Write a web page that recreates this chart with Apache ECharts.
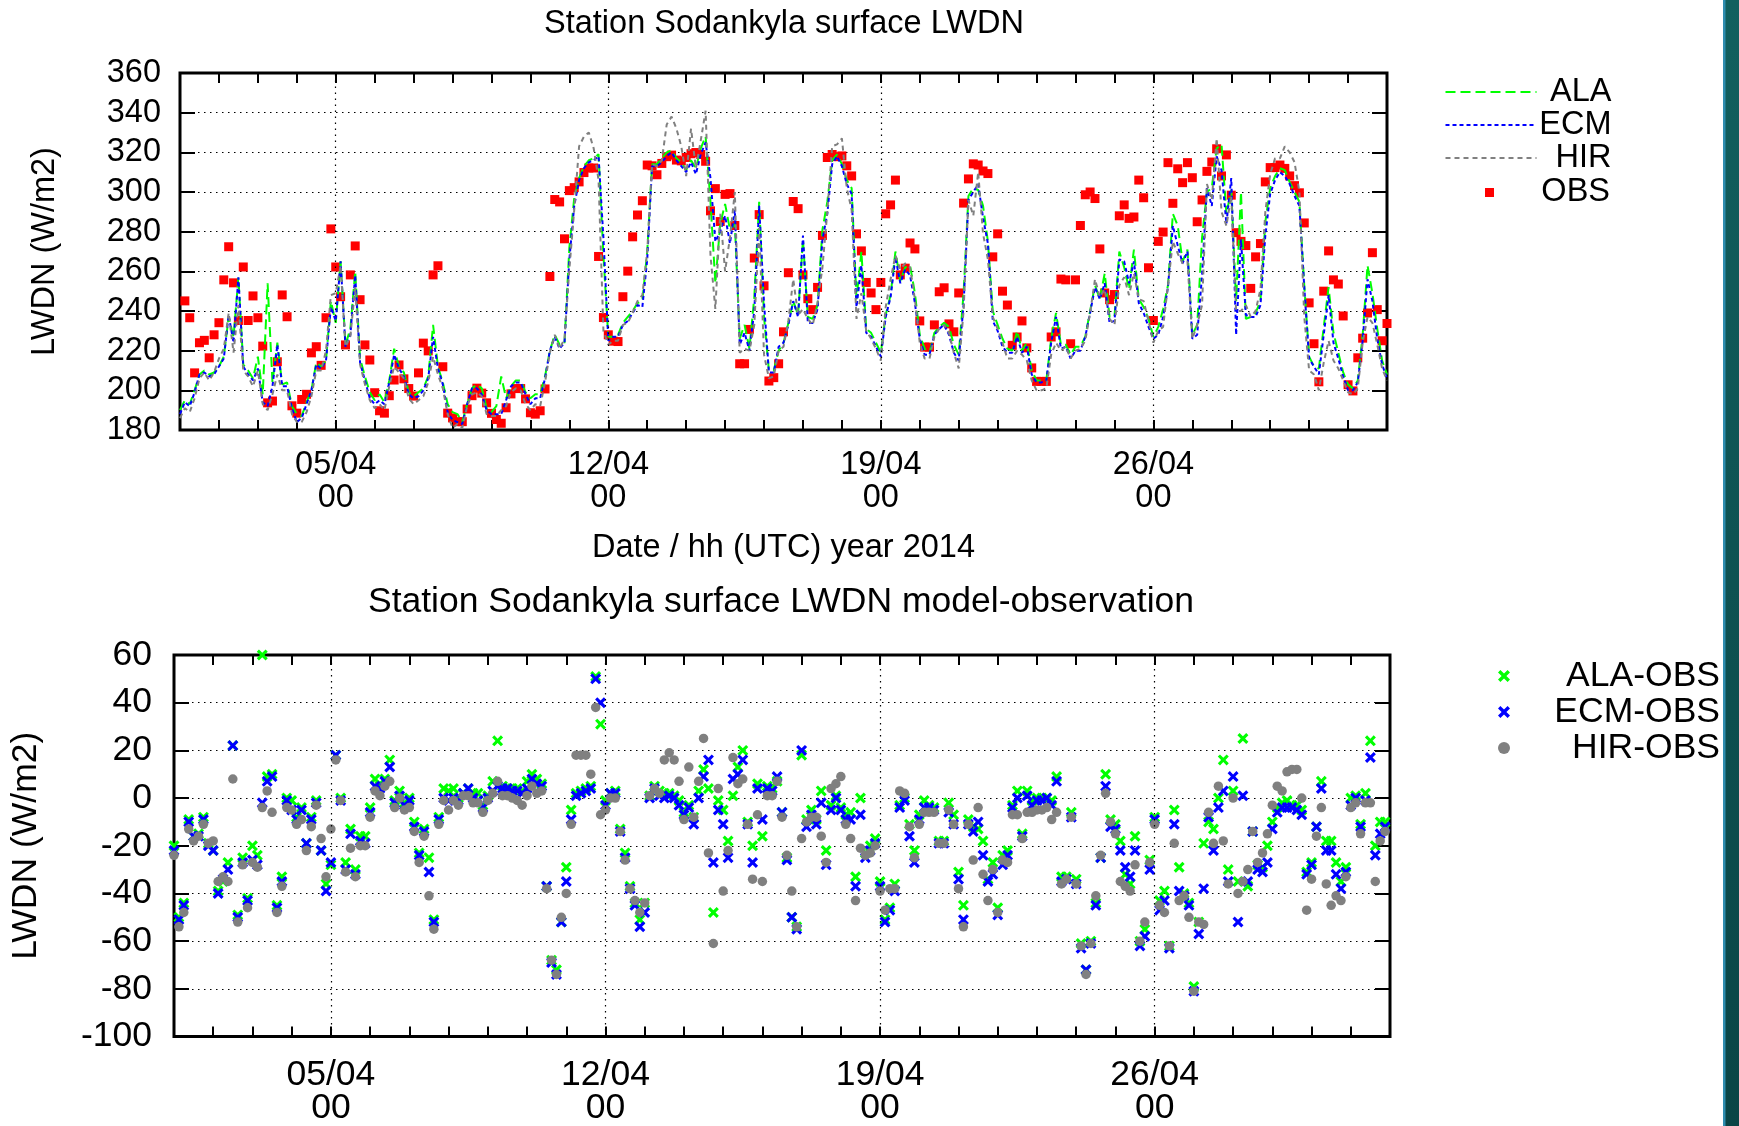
<!DOCTYPE html>
<html>
<head>
<meta charset="utf-8">
<title>Station Sodankyla surface LWDN</title>
<script src="https://cdn.jsdelivr.net/npm/echarts@6/dist/echarts.min.js"></script>
<style>
html, body { margin: 0; padding: 0; background: #fff; }
#chart { width: 1739px; height: 1126px; }
</style>
</head>
<body>
<div id="chart"></div>
<script>
// hours after 01/04/2014 00 UTC, one value every 3 hours
var hours = [];
for (var h = 0; h <= 744; h += 3) hours.push(h);

var weekTicks = [96, 264, 432, 600];
var weekLabels = ['05/04\n00', '12/04\n00', '19/04\n00', '26/04\n00'];

// observed LWDN (W/m2)
var obs = [null,
  245.1, 236.6, 208.8, 224.0, 225.2, 216.4, 228.0, 234.1,
  255.7, 272.4, 254.2, 235.2, 262.2, 235.2, 247.6, 236.6,
  222.3, 193.7, 194.6, 214.4, 248.1, 237.1, 192.2, 188.5,
  195.4, 198.0, 218.9, 222.0, 212.6, 236.6, 281.4, 262.2,
  247.2, 222.9, 258.2, 272.8, 245.7, 222.9, 215.3, 198.8,
  189.7, 188.5, 197.3, 205.2, 212.8, 205.8, 200.9, 197.1,
  208.8, 223.8, 219.9, 258.2, 262.8, 211.9, 188.5, 186.1,
  184.2, 184.2, 190.6, 197.3, 201.1, 198.6, 193.7, 188.4,
  185.3, 183.4, 191.2, 198.2, 200.9, 200.9, 195.7, 188.7,
  188.0, 189.7, 200.7, 257.4, 296.2, 295.0, 276.4, 300.7,
  302.2, 305.1, 309.8, 312.1, 312.1, 267.5, 236.7, 228.0,
  224.8, 224.6, 247.2, 260.1, 277.4, 288.4, 295.6, 313.6,
  313.2, 308.7, 314.4, 317.8, 318.6, 316.1, 315.7, 317.4,
  319.3, 319.9, 318.9, 315.5, 290.5, 301.7, 285.1, 298.8,
  299.2, 283.1, 213.4, 213.4, 230.7, 266.7, 288.6, 252.7,
  204.7, 206.4, 213.4, 229.5, 259.3, 295.2, 291.6, 258.2,
  246.2, 240.7, 251.9, 278.1, 317.4, 318.9, 317.8, 318.2,
  313.2, 308.1, 278.9, 270.3, 254.4, 249.1, 240.7, 254.4,
  289.0, 293.5, 306.0, 258.2, 261.6, 274.3, 271.3, 235.0,
  221.8, 221.8, 233.0, 249.7, 251.7, 233.5, 229.5, 249.1,
  294.4, 306.6, 314.2, 313.6, 310.6, 309.3, 267.3, 278.9,
  250.0, 243.0, 222.7, 226.9, 235.0, 221.4, 211.3, 204.5,
  204.5, 204.5, 226.9, 229.5, 256.1, 255.7, 223.5, 255.7,
  283.1, 298.6, 300.0, 296.7, 271.3, 249.1, 245.7, 248.3,
  288.0, 293.5, 286.7, 287.4, 306.0, 297.1, 261.8, 235.2,
  275.1, 279.8, 314.8, 294.3, 311.7, 304.7, 314.8, 307.2,
  285.0, 296.0, 310.4, 315.1, 321.8, 308.1, 318.7, 298.4,
  279.5, 275.1, 273.0, 251.4, 267.3, 274.0, 305.1, 312.3,
  312.3, 313.6, 311.9, 308.1, 303.2, 299.6, 284.4, 244.1,
  223.5, 204.3, 250.0, 270.3, 255.7, 253.6, 237.5, 202.8,
  199.7, 216.4, 226.3, 239.0, 269.4, 240.7, 225.0, 233.7];

// model LWDN (W/m2)
var ala = [
  190, 195, 193, 200, 208, 210, 208, 209,
  212, 217, 237, 227, 257, 213, 210, 206,
  217, 198, 254, 204, 224, 203, 204, 192,
  188, 187, 194, 200, 214, 212, 215, 245,
  234, 265, 223, 231, 260, 216, 207, 199,
  195, 198, 194, 205, 221, 212, 209, 199,
  197, 199, 201, 207, 233, 212, 204, 193,
  189, 188, 184, 193, 201, 203, 201, 191,
  189, 192, 207, 196, 202, 205, 205, 199,
  196, 198, 198, 207, 220, 228, 223, 224,
  272, 297, 307, 313, 316, 317, 319, 268,
  227, 227, 228, 234, 237, 240, 244, 245,
  270, 314, 314, 317, 320, 321, 317, 315,
  311, 316, 312, 322, 328, 295, 254, 284,
  294, 281, 284, 226, 233, 221, 247, 295,
  237, 210, 210, 220, 224, 234, 245, 238,
  276, 237, 236, 243, 281, 295, 316, 319,
  314, 306, 302, 246, 270, 231, 229, 224,
  219, 238, 248, 270, 255, 262, 263, 249,
  228, 221, 219, 229, 232, 234, 232, 223,
  218, 249, 298, 302, 301, 293, 275, 240,
  233, 226, 221, 220, 230, 220, 224, 210,
  205, 205, 205, 226, 239, 223, 223, 218,
  222, 222, 227, 240, 253, 246, 259, 237,
  237, 270, 262, 251, 271, 246, 242, 236,
  227, 232, 241, 253, 289, 283, 265, 271,
  228, 233, 277, 300, 302, 322, 324, 289,
  301, 245, 300, 236, 237, 239, 245, 285,
  302, 308, 312, 311, 305, 300, 295, 253,
  217, 212, 211, 232, 252, 229, 219, 209,
  203, 201, 205, 228, 263, 249, 231, 215,
  208];

var ecm = [
  188, 194, 192, 199, 208, 209, 207, 208,
  212, 216, 238, 224, 257, 212, 208, 205,
  211, 194, 192, 202, 223, 202, 202, 191,
  184, 186, 193, 200, 213, 211, 215, 242,
  235, 265, 222, 228, 258, 214, 205, 196,
  193, 195, 193, 204, 218, 211, 207, 198,
  196, 197, 200, 206, 227, 211, 203, 189,
  185, 184, 183, 193, 201, 201, 198, 190,
  188, 188, 188, 195, 202, 204, 204, 198,
  193, 196, 196, 206, 220, 227, 221, 224,
  266, 293, 306, 312, 315, 316, 318, 277,
  225, 227, 227, 233, 235, 239, 243, 242,
  266, 313, 313, 315, 318, 320, 316, 313,
  310, 315, 309, 319, 325, 307, 275, 280,
  288, 274, 291, 223, 229, 220, 240, 293,
  244, 209, 209, 222, 224, 233, 245, 237,
  278, 234, 234, 241, 276, 289, 314, 318,
  313, 304, 299, 242, 263, 229, 227, 222,
  217, 237, 247, 267, 254, 261, 258, 244,
  226, 218, 218, 228, 231, 233, 228, 219,
  215, 243, 296, 300, 304, 287, 274, 235,
  230, 222, 219, 219, 227, 219, 222, 208,
  204, 204, 205, 224, 237, 221, 222, 216,
  220, 220, 227, 239, 252, 246, 254, 234,
  235, 266, 265, 254, 265, 244, 239, 232,
  226, 228, 237, 252, 283, 273, 264, 270,
  226, 228, 258, 302, 293, 318, 311, 284,
  307, 228, 276, 238, 237, 237, 243, 278,
  299, 306, 310, 308, 304, 298, 293, 252,
  216, 212, 208, 228, 248, 224, 216, 207,
  200, 200, 204, 225, 256, 245, 226, 213,
  206];

var hir = [
  186, 191, 189, 196, 206, 209, 205, 209,
  216, 221, 239, 219, 243, 210, 207, 202,
  210, 193, 190, 198, 208, 200, 200, 188,
  184, 184, 189, 197, 210, 210, 220, 248,
  249, 263, 222, 227, 252, 213, 203, 195,
  191, 193, 190, 202, 212, 209, 206, 196,
  193, 195, 197, 204, 217, 208, 201, 188,
  181, 183, 181, 192, 198, 199, 197, 188,
  187, 187, 190, 192, 199, 201, 200, 193,
  190, 193, 192, 204, 219, 228, 221, 226,
  261, 291, 323, 328, 330, 322, 306, 230,
  223, 225, 225, 233, 234, 239, 245, 248,
  270, 314, 313, 316, 334, 338, 332, 323,
  308, 332, 312, 326, 341, 268, 241, 289,
  260, 277, 300, 219, 221, 220, 233, 282,
  218, 206, 207, 220, 222, 235, 256, 238,
  241, 236, 233, 244, 262, 290, 323, 324,
  327, 302, 291, 236, 249, 230, 226, 221,
  215, 242, 256, 268, 261, 264, 262, 246,
  224, 216, 216, 227, 231, 233, 229, 219,
  211, 240, 296, 288, 310, 279, 266, 237,
  231, 224, 216, 216, 220, 218, 215, 205,
  200, 200, 201, 218, 224, 220, 222, 216,
  220, 221, 225, 239, 256, 247, 251, 236,
  233, 253, 257, 248, 259, 246, 245, 235,
  224, 230, 232, 253, 275, 269, 264, 265,
  226, 233, 243, 304, 296, 327, 290, 283,
  298, 240, 240, 243, 237, 240, 251, 290,
  309, 317, 317, 323, 320, 315, 300, 237,
  210, 208, 200, 214, 225, 215, 211, 205,
  199, 198, 201, 224, 237, 234, 223, 211,
  205];

// model minus observation (W/m2)
var alaObs = [
  -20, -50, -44, -9, -16, -15, -8, -19,
  -22, -39, -35, -27, 22, -49, -25, -42,
  -20, -24, 60, 9, 10, -45, -33, 0,
  -1, -8, -4, -19, -8, -1, -22, -36,
  -28, 18, 0, -27, -13, -30, -16, -16,
  -4, 8, 5, 8, 16, -1, 3, -2,
  0, -10, -23, -13, -25, -51, -8, 4,
  3, 4, 0, 2, 4, 2, 2, -3,
  1, 7, 24, 5, 4, 4, 4, 3,
  7, 10, 8, 6, -37, -68, -72, -52,
  -29, -5, 2, 3, 4, 5, 51, 31,
  -1, 2, 3, -13, -23, -37, -44, -51,
  -44, 1, 5, 3, 2, 2, 1, -1,
  -6, -3, -8, 3, 12, 4, -48, -1,
  -5, -18, 1, 13, 20, -10, -20, 6,
  -16, 5, 4, 7, -6, -25, -50, -54,
  18, -9, -5, -9, 3, -22, -3, 1,
  -4, -7, -6, -33, 0, -23, -20, -17,
  -35, -51, -46, -36, -3, 0, -11, -22,
  -7, -1, -3, -4, -18, -18, -2, -7,
  -31, -45, -9, -12, -13, -18, -34, -27,
  -46, -24, -22, -3, 3, -15, 3, -1,
  0, 0, 0, -1, 9, -33, -33, -6,
  -34, -61, -72, -60, -44, -25, 10, -9,
  -11, -18, -32, -36, -16, -60, -55, -26,
  -8, -43, -39, -62, -5, -29, -40, -44,
  -79, -52, -19, -10, -13, 0, 16, -30,
  3, -35, 25, -37, -14, -28, -29, -20,
  -10, -4, -2, -1, -3, -3, -5, -31,
  -27, -12, 7, -18, -18, -27, -35, -29,
  0, 1, -11, 2, 24, -20, -10, -10,
  null];

var ecmObs = [
  -22, -51, -45, -10, -16, -16, -9, -20,
  -22, -40, -34, -30, 22, -50, -27, -43,
  -26, -28, -2, 7, 9, -46, -35, -1,
  -5, -9, -5, -19, -9, -2, -22, -39,
  -27, 18, -1, -30, -15, -32, -18, -19,
  -6, 5, 4, 7, 13, -2, 1, -3,
  -1, -12, -24, -14, -31, -52, -9, 0,
  -1, 0, -1, 2, 4, 0, -1, -4,
  0, 3, 5, 4, 4, 3, 3, 2,
  4, 8, 6, 5, -37, -69, -74, -52,
  -35, -9, 1, 2, 3, 4, 50, 40,
  -3, 2, 2, -14, -25, -38, -45, -54,
  -48, 0, 4, 1, 0, 1, 0, -3,
  -7, -4, -11, 0, 9, 16, -27, -5,
  -11, -25, 8, 10, 16, -11, -27, 4,
  -9, 4, 3, 9, -6, -26, -50, -55,
  20, -12, -7, -11, -2, -28, -5, 0,
  -5, -9, -9, -37, -7, -25, -22, -19,
  -37, -52, -47, -39, -4, -1, -16, -27,
  -9, -4, -4, -5, -19, -19, -6, -11,
  -34, -51, -11, -14, -10, -24, -35, -32,
  -49, -28, -24, -4, 0, -16, 1, -3,
  -1, -1, 0, -3, 7, -35, -34, -8,
  -36, -63, -72, -61, -45, -25, 5, -12,
  -13, -22, -29, -33, -22, -62, -58, -30,
  -9, -47, -43, -63, -11, -39, -41, -45,
  -81, -57, -38, -8, -22, -4, 3, -35,
  9, -52, 1, -35, -14, -30, -31, -27,
  -13, -6, -4, -4, -4, -5, -7, -32,
  -28, -12, 4, -22, -22, -32, -38, -31,
  -3, 0, -12, -1, 17, -24, -15, -12,
  null];

var hirObs = [
  -24, -54, -48, -13, -18, -16, -11, -19,
  -18, -35, -33, -35, 8, -52, -28, -46,
  -27, -29, -4, 3, -6, -48, -37, -4,
  -5, -11, -9, -22, -12, -3, -17, -33,
  -13, 16, -1, -31, -21, -33, -20, -20,
  -8, 3, 1, 5, 7, -4, 0, -5,
  -4, -14, -27, -16, -41, -55, -11, -1,
  -5, -1, -3, 1, 1, -2, -2, -6,
  -1, 2, 7, 1, 1, 0, -1, -3,
  1, 5, 2, 3, -38, -68, -74, -50,
  -40, -11, 18, 18, 18, 10, 38, -7,
  -5, 0, 0, -14, -26, -38, -43, -48,
  -44, 1, 4, 2, 16, 19, 16, 7,
  -9, 13, -8, 7, 25, -23, -61, 4,
  -39, -22, 17, 6, 8, -11, -34, -7,
  -35, 1, 1, 7, -8, -24, -39, -54,
  -17, -10, -8, -8, -16, -27, 4, 6,
  9, -11, -17, -43, -21, -24, -23, -20,
  -39, -47, -38, -38, 3, 2, -12, -25,
  -11, -6, -6, -6, -19, -19, -5, -11,
  -38, -54, -11, -26, -4, -32, -43, -30,
  -48, -26, -27, -7, -7, -17, -6, -6,
  -5, -5, -4, -9, -6, -36, -34, -8,
  -36, -62, -74, -61, -41, -24, 2, -10,
  -15, -35, -37, -39, -28, -60, -52, -27,
  -11, -45, -48, -62, -19, -43, -41, -50,
  -81, -52, -53, -6, -19, 5, -18, -36,
  0, -40, -35, -30, -14, -27, -23, -15,
  -3, 5, 3, 11, 12, 12, 0, -47,
  -34, -16, -4, -36, -45, -41, -43, -33,
  -4, -2, -15, -2, -2, -35, -18, -14,
  null];

function pairs(vals) {
  var out = [];
  for (var i = 0; i < vals.length; i++) {
    if (vals[i] !== null) out.push([hours[i], vals[i]]);
  }
  return out;
}

var FONT = '"Liberation Sans", Arial, Helvetica, sans-serif';
var F1 = 32.5;   // upper panel text size
var F2 = 35.5;   // lower panel text size
var dots = [1.5, 4.5];
var cross = 'path://M0,2 L2,0 L5,3 L8,0 L10,2 L7,5 L10,8 L8,10 L5,7 L2,10 L0,8 L3,5 Z';

function dateLabel(v) {
  var k = weekTicks.indexOf(v);
  return k < 0 ? '' : weekLabels[k];
}

function dayAxis(grid, pos, withLabels, fs, margin, name, nameGap) {
  return {
    type: 'value', gridIndex: grid, position: pos,
    min: 0, max: 744, interval: 24,
    axisLine: { show: false, onZero: false },
    axisTick: { show: true, inside: true, length: 10, lineStyle: { color: '#000', width: 2 } },
    axisLabel: {
      show: withLabels, formatter: dateLabel, color: '#000',
      fontFamily: FONT, fontSize: fs, lineHeight: 33, margin: margin
    },
    splitLine: { show: false },
    name: name || '', nameLocation: 'middle', nameGap: nameGap || 0,
    nameTextStyle: { color: '#000', fontFamily: FONT, fontSize: fs }
  };
}

function valAxis(grid, pos, min, max, withLabels, fs, margin, nameGap) {
  return {
    type: 'value', gridIndex: grid, position: pos,
    min: min, max: max, interval: 20,
    axisLine: { show: false, onZero: false },
    axisTick: { show: true, inside: true, length: 15, lineStyle: { color: '#000', width: 2 } },
    axisLabel: { show: withLabels, color: '#000', fontFamily: FONT, fontSize: fs, margin: margin },
    splitLine: { show: withLabels, lineStyle: { color: '#000', width: 1.2, type: dots } },
    name: withLabels ? 'LWDN (W/m2)' : '', nameLocation: 'middle', nameGap: nameGap || 0,
    nameRotate: 90,
    nameTextStyle: { color: '#000', fontFamily: FONT, fontSize: fs }
  };
}

var weekGrid = {
  silent: true, symbol: ['none', 'none'], animation: false,
  label: { show: false },
  lineStyle: { color: '#000', width: 1.2, type: dots },
  data: weekTicks.map(function (t) { return { xAxis: t }; })
};

var noSymbol = { color: 'transparent', borderWidth: 0, opacity: 0 };

var option = {
  animation: false,
  backgroundColor: '#fff',
  title: [
    { text: 'Station Sodankyla surface LWDN', left: 784, top: 8, textAlign: 'center', padding: 0,
      textStyle: { color: '#000', fontFamily: FONT, fontSize: F1, fontWeight: 'normal' } },
    { text: 'Station Sodankyla surface LWDN model-observation', left: 781, top: 584, textAlign: 'center', padding: 0,
      textStyle: { color: '#000', fontFamily: FONT, fontSize: F2, fontWeight: 'normal' } }
  ],
  grid: [
    { left: 180, top: 73, width: 1207, height: 357, show: true, borderColor: '#000', borderWidth: 3 },
    { left: 172, top: 655, width: 1218, height: 386, show: true, borderColor: '#000', borderWidth: 3 }
  ],
  xAxis: [
    dayAxis(0, 'bottom', true, F1, 18.5, 'Date / hh (UTC) year 2014', 102),
    dayAxis(0, 'top', false, F1, 0),
    dayAxis(1, 'bottom', true, F2, 22),
    dayAxis(1, 'top', false, F2, 0)
  ],
  yAxis: [
    valAxis(0, 'left', 180, 360, true, F1, 19, 118),
    valAxis(0, 'right', 180, 360, false, F1, 0),
    valAxis(1, 'left', -100, 60, true, F2, 22, 130),
    valAxis(1, 'right', -100, 60, false, F2, 0)
  ],
  legend: [
    { data: ['ALA', 'ECM', 'HIR'], orient: 'vertical', left: 1439.5, top: 70.5,
      itemWidth: 91, itemHeight: 14, itemGap: 0, selectedMode: false,
      itemStyle: noSymbol,
      formatter: '{a|{name}}',
      textStyle: { rich: { a: { width: 70, align: 'right', fontFamily: FONT, fontSize: F1, lineHeight: 33, color: '#000' } } } },
    { data: [{ name: 'OBS', icon: 'rect' }], orient: 'vertical', left: 1480, top: 171,
      itemWidth: 9, itemHeight: 9, selectedMode: false,
      formatter: '{a|{name}}',
      textStyle: { rich: { a: { width: 111, align: 'right', fontFamily: FONT, fontSize: F1, lineHeight: 33, color: '#000' } } } },
    { data: ['ALA-OBS', 'ECM-OBS', 'HIR-OBS'], orient: 'vertical', left: 1493, top: 653,
      itemWidth: 12, itemHeight: 12, itemGap: 0, selectedMode: false,
      formatter: '{a|{name}}',
      textStyle: { rich: { a: { width: 205, align: 'right', fontFamily: FONT, fontSize: F2, lineHeight: 34.5, color: '#000' } } } }
  ],
  series: [
    { name: 'ALA', type: 'line', xAxisIndex: 0, yAxisIndex: 0, data: pairs(ala),
      symbol: 'none', lineStyle: { color: '#00ff00', width: 2, type: [10, 5] }, itemStyle: { color: '#00ff00' },
      markLine: weekGrid },
    { name: 'ECM', type: 'line', xAxisIndex: 0, yAxisIndex: 0, data: pairs(ecm),
      symbol: 'none', lineStyle: { color: '#0000ff', width: 2, type: [4, 3] }, itemStyle: { color: '#0000ff' } },
    { name: 'HIR', type: 'line', xAxisIndex: 0, yAxisIndex: 0, data: pairs(hir),
      symbol: 'none', lineStyle: { color: '#808080', width: 2, type: [5, 4] }, itemStyle: { color: '#808080' } },
    { name: 'OBS', type: 'scatter', xAxisIndex: 0, yAxisIndex: 0, data: pairs(obs),
      symbol: 'rect', symbolSize: 9, itemStyle: { color: '#ff0000', opacity: 1 } },
    { name: 'ALA-OBS', type: 'scatter', xAxisIndex: 2, yAxisIndex: 2, data: pairs(alaObs),
      symbol: cross, symbolSize: 11, itemStyle: { color: '#00ff00', opacity: 1 },
      markLine: weekGrid },
    { name: 'ECM-OBS', type: 'scatter', xAxisIndex: 2, yAxisIndex: 2, data: pairs(ecmObs),
      symbol: cross, symbolSize: 11, itemStyle: { color: '#0000ff', opacity: 1 } },
    { name: 'HIR-OBS', type: 'scatter', xAxisIndex: 2, yAxisIndex: 2, data: pairs(hirObs),
      symbol: 'circle', symbolSize: 9.5, itemStyle: { color: '#808080', opacity: 1 } }
  ],
  graphic: [
    { type: 'rect', left: 1724, top: 0, shape: { width: 15, height: 1126 }, silent: true,
      style: { fill: { type: 'linear', x: 0, y: 0, x2: 0, y2: 1,
        colorStops: [{ offset: 0, color: '#12605f' }, { offset: 1, color: '#0a4546' }] } } },
    { type: 'rect', left: 1723, top: 0, shape: { width: 2.5, height: 1126 }, silent: true,
      style: { fill: '#2f8db0' } }
  ]
};

var chart = echarts.init(document.getElementById('chart'), null, { renderer: 'canvas' });
chart.setOption(option);
</script>
</body>
</html>
